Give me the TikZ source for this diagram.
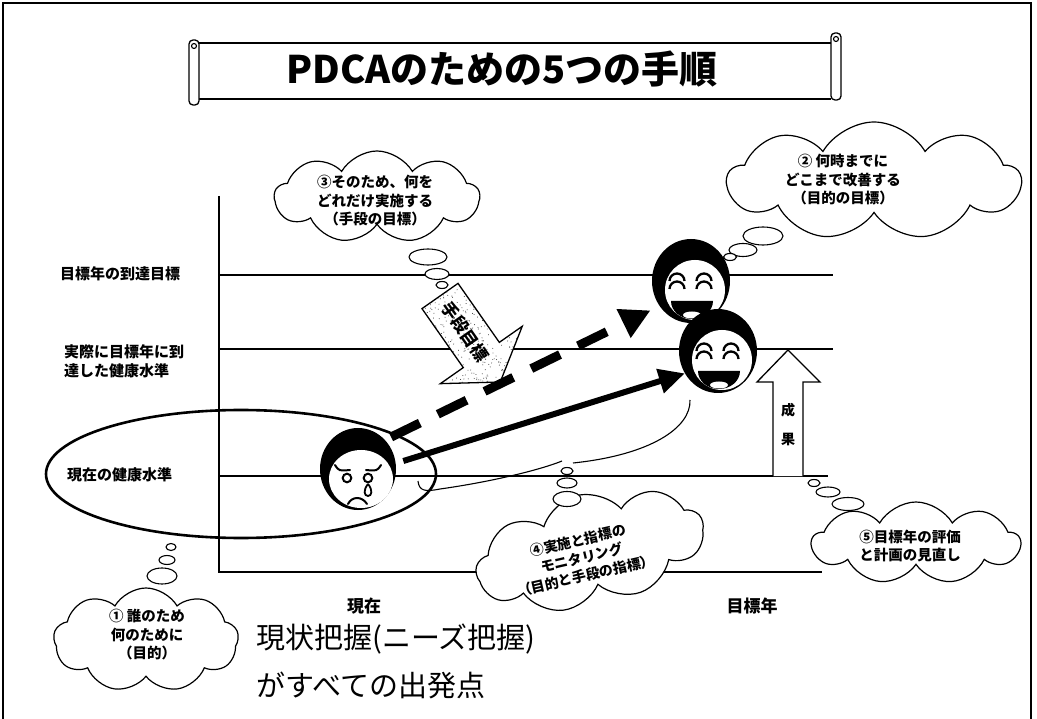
\documentclass[tikz,border=0pt]{standalone}
\usepackage{fontspec}
\newfontfamily\jp{Noto Sans CJK JP}
\usetikzlibrary{shapes.symbols,arrows.meta}

\tikzset{
  thought/.style={cloud, draw, fill=white, line width=1.2pt, cloud puffs=9,
    cloud puff arc=120, cloud ignores aspect, inner sep=0pt},
  bubble/.style={draw, fill=white, line width=1.1pt},
  level/.style={line width=1.1pt},
  lbl/.style={font=\jp\bfseries\fontsize{15}{19}\selectfont, align=left, anchor=west, inner sep=0pt},
  ctext/.style={font=\jp\bfseries\fontsize{14.5}{18.5}\selectfont, align=center, inner sep=0pt},
  axl/.style={font=\jp\bfseries\fontsize{17}{20}\selectfont, inner sep=0pt},
  big/.style={font=\jp\fontsize{29}{34}\selectfont, anchor=west, inner sep=0pt},
  facebox/.style={circle, inner sep=0pt, outer sep=0pt},
  scrollline/.style={line width=1.3pt, line join=round},
  thinline/.style={line width=1.1pt},
  happyface/.pic={
    \fill (0,0) ellipse[x radius=39, y radius=42];
    \fill[white] (4,9) ellipse[x radius=30, y radius=30];
    \foreach \ex in {-14,13}{
      \draw[line width=2.3pt] (\ex-7.5,0) arc[start angle=180, end angle=360, radius=7.5];
      \draw[line width=2.3pt] (\ex-7.5,8) arc[start angle=180, end angle=360, radius=7.5];
    }
    \fill (-20,20) arc[start angle=180, end angle=0, x radius=21, y radius=18] -- cycle;
    \fill[white] (1,34) ellipse[x radius=9, y radius=3.5];
  },
  sadface/.pic={
    \fill (0,0) ellipse[x radius=38, y radius=41];
    \fill[white] (3,10) ellipse[x radius=32, y radius=29];
    \draw[line width=2pt, line cap=round] (-23,-4) .. controls (-19,2) .. (-8,1);
    \draw[line width=2pt, line cap=round] (8,1) .. controls (19,2) .. (23,-4);
    \draw[line width=2pt] (-11,9) circle[radius=4.3];
    \draw[line width=2pt] (10,9) circle[radius=4.3];
    \draw[line width=1.8pt] (10,15) .. controls (5,21) and (6,27) .. (10,27)
      .. controls (14,27) and (15,21) .. (10,15);
    \draw[line width=2pt, line cap=round] (-10,35) .. controls (-6,27) and (4,27) .. (9,35);
  },
}

\begin{document}
\begin{tikzpicture}[x=1pt, y=-1pt]
\useasboundingbox (0,0) rectangle (1037,719);

% page frame
\draw[line width=1.2pt] (3,719) -- (3,3) -- (1031,3) -- (1031,719);

% title scroll
\draw[scrollline] (199,43) -- (831,43);
\draw[scrollline] (199,99) -- (831,99);
\draw[scrollline, fill=white, rounded corners=4pt] (189,40) rectangle (199,105);
\draw[thinline] (194,46) circle[radius=2.5];
\draw[scrollline, fill=white, rounded corners=4pt] (831,33) rectangle (841,100);
\draw[thinline] (836,39) circle[radius=2.5];
\node[font=\jp\bfseries\fontsize{38}{40}\selectfont, inner sep=0pt] (title) at (502,69) {PDCAのための5つの手順};

% axes and levels
\draw[level] (219,196) -- (219,572) -- (822,572);
\draw[level] (219,275) -- (833,275);
\draw[level] (219,349) -- (833,349);
\draw[level] (219,476) -- (828,476);

\node[lbl] (l1) at (60,274) {目標年の到達目標};
\node[lbl] (l2) at (64,361) {実際に目標年に到\\達した健康水準};
\node[lbl] (l3) at (67,475) {現在の健康水準};

% current-level ellipse
\draw[line width=2.6pt] (241,474) ellipse[x radius=195, y radius=64];

% thought clouds
\node[thought, minimum width=205pt, minimum height=92pt] (c3) at (377,197) {};
\node[ctext] (t3) at (375,201) {③そのため、何を\\どれだけ実施する\\（手段の目標）};
\draw[bubble] (428,257) ellipse[x radius=19, y radius=8];
\draw[bubble] (437,274) ellipse[x radius=12, y radius=5.5];
\draw[bubble] (442,285) ellipse[x radius=6, y radius=3.5];

\node[thought, minimum width=293pt, minimum height=118pt] (c2) at (874,181) {};
\node[ctext] (t2) at (843,180) {② 何時までに\\どこまで改善する\\（目的の目標）};
\draw[bubble] (763,236) ellipse[x radius=20, y radius=9];
\draw[bubble] (743,250) ellipse[x radius=14, y radius=6.5];
\draw[bubble] (730,257) ellipse[x radius=6.5, y radius=3.5];

\node[thought, minimum width=185pt, minimum height=104pt] (c1) at (146,640) {};
\node[ctext] (t1) at (147,635) {① 誰のため\\何のために\\（目的）};
\draw[bubble] (171,547) ellipse[x radius=5, y radius=3.5];
\draw[bubble] (167,560) ellipse[x radius=8, y radius=4.5];
\draw[bubble] (162,576) ellipse[x radius=15, y radius=8];

\node[thought, rotate=13, minimum width=232pt, minimum height=112pt] (c4) at (590,550) {};
\node[ctext, rotate=13, font=\jp\bfseries\fontsize{14}{18}\selectfont] (t4) at (582,558) {④実施と指標の\\モニタリング\\（目的と手段の指標）};
\draw[bubble] (567,499) ellipse[x radius=14, y radius=7.5];
\draw[bubble] (567,483) ellipse[x radius=10, y radius=5];
\draw[bubble] (567,471) ellipse[x radius=6, y radius=3.5];

\node[thought, minimum width=208pt, minimum height=82pt] (c5) at (916,543) {};
\node[ctext] (t5) at (910,546) {⑤目標年の評価\\と計画の見直し};
\draw[bubble] (814,483) ellipse[x radius=6, y radius=3.5];
\draw[bubble] (828,492) ellipse[x radius=12, y radius=5];
\draw[bubble] (848,504) ellipse[x radius=16, y radius=6.5];

% thought trails from the faces
\draw[thinline] (418,481) .. controls (419,491) and (425,492) .. (440,489)
  .. controls (490,482) and (540,470) .. (562,461);
\draw[thinline] (690,400) .. controls (691,428) and (650,455) .. (573,463);

% faces
\pic at (358,469) {sadface};
\pic at (691,281) {happyface};
\pic at (718,351) {happyface};
\node[facebox, minimum size=92pt] (sad) at (358,469) {};
\node[facebox, minimum size=100pt] (hapU) at (691,281) {};
\node[facebox, minimum size=80pt] (hapL) at (718,351) {};

% means-target block arrow
\begin{scope}[shift={(440,296)}, rotate=-55]
  \pgfmathsetseed{11}
  \begin{scope}
    \clip (0,-22) -- (72,-22) -- (72,-50) -- (105,0) -- (72,50) -- (72,22) -- (0,22) -- cycle;
    \fill[white] (0,-50) rectangle (105,50);
    \foreach \k in {1,...,420}{
      \fill[black!70] ({105*rnd},{100*rnd-50}) circle[radius=0.55];
    }
  \end{scope}
  \draw[line width=1.3pt, line join=miter] (0,-22) -- (72,-22) -- (72,-50) -- (105,0)
    -- (72,50) -- (72,22) -- (0,22) -- cycle;
  \node[transform shape, font=\jp\bfseries\fontsize{17}{17}\selectfont, inner sep=0pt] (means) at (44,0) {手段目標};
\end{scope}

% results block arrow
\draw[line width=1.3pt, fill=white, line join=miter] (773,476) -- (773,382) -- (757,382) -- (788,350)
  -- (820,382) -- (803,382) -- (803,476);
\node[font=\jp\bfseries\fontsize{14}{16}\selectfont, inner sep=0pt] (r1) at (788,410) {成};
\node[font=\jp\bfseries\fontsize{14}{16}\selectfont, inner sep=0pt] (r2) at (788,439) {果};

% progress arrows
\draw[line width=6pt, -{Triangle[length=26pt, width=24pt]}] (sad.10) -- (hapL.214);
\draw[line width=9pt, dash pattern=on 32pt off 20pt, -{Triangle[length=30pt, width=30pt]}] (sad.44) -- (hapU.216);

% axis captions and message
\node[axl] (now) at (364,606) {現在};
\node[axl] (goal) at (752,606) {目標年};
\node[big] (msg1) at (256,639) {現状把握(ニーズ把握)};
\node[big] (msg2) at (256,685) {がすべての出発点};

\end{tikzpicture}
\end{document}
